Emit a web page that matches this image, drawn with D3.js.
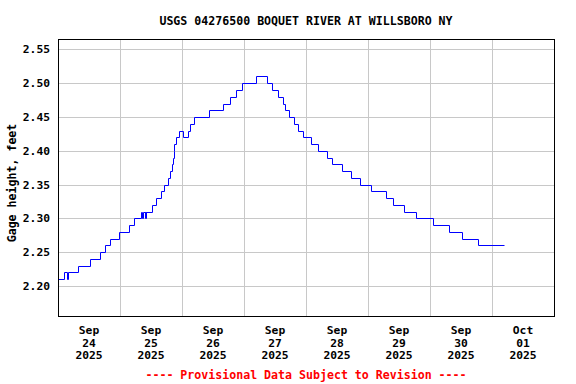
<!DOCTYPE html>
<html>
<head>
<meta charset="utf-8">
<script src="https://cdn.jsdelivr.net/npm/d3@7"></script>
<style>
  body { margin: 0; background: #fff; }
  text { font-family: "DejaVu Sans Mono", monospace; font-weight: bold; }
</style>
</head>
<body>
<div id="chart"></div>
<script>
// gage readings (time, feet), step changes
var times = [
  "2025-09-24 00:00", "2025-09-24 02:30", "2025-09-24 03:30", "2025-09-24 03:45",
  "2025-09-24 07:45", "2025-09-24 12:30", "2025-09-24 16:15", "2025-09-24 18:15",
  "2025-09-24 20:00", "2025-09-24 23:45", "2025-09-25 03:30", "2025-09-25 05:30",
  "2025-09-25 08:00", "2025-09-25 08:30", "2025-09-25 08:45", "2025-09-25 09:30",
  "2025-09-25 09:45", "2025-09-25 10:00", "2025-09-25 10:15", "2025-09-25 12:30",
  "2025-09-25 14:00", "2025-09-25 16:00", "2025-09-25 17:00", "2025-09-25 18:45",
  "2025-09-25 19:15", "2025-09-25 20:00", "2025-09-25 20:30", "2025-09-25 20:45",
  "2025-09-25 21:00", "2025-09-25 21:45", "2025-09-25 22:45", "2025-09-26 00:30",
  "2025-09-26 02:15", "2025-09-26 03:00", "2025-09-26 04:45", "2025-09-26 10:30",
  "2025-09-26 16:00", "2025-09-26 18:30", "2025-09-26 21:00", "2025-09-26 23:15",
  "2025-09-27 04:45", "2025-09-27 09:00", "2025-09-27 10:45", "2025-09-27 13:15",
  "2025-09-27 15:00", "2025-09-27 16:00", "2025-09-27 17:30", "2025-09-27 19:15",
  "2025-09-27 20:45", "2025-09-27 23:00", "2025-09-28 02:00", "2025-09-28 04:45",
  "2025-09-28 08:00", "2025-09-28 10:00", "2025-09-28 13:45", "2025-09-28 17:15",
  "2025-09-28 20:45", "2025-09-29 01:15", "2025-09-29 07:00", "2025-09-29 09:45",
  "2025-09-29 14:00", "2025-09-29 18:45", "2025-09-30 01:15", "2025-09-30 07:15",
  "2025-09-30 12:15", "2025-09-30 18:30", "2025-10-01 04:45"
];
var heights = [
  2.21, 2.22, 2.21, 2.22,
  2.23, 2.24, 2.25, 2.26,
  2.27, 2.28, 2.29, 2.30,
  2.31, 2.30, 2.31, 2.30,
  2.31, 2.30, 2.31, 2.32,
  2.33, 2.34, 2.35, 2.36,
  2.37, 2.38, 2.39, 2.40,
  2.41, 2.42, 2.43, 2.42,
  2.43, 2.44, 2.45, 2.46,
  2.47, 2.48, 2.49, 2.50,
  2.51, 2.50, 2.49, 2.48,
  2.47, 2.46, 2.45, 2.44,
  2.43, 2.42, 2.41, 2.40,
  2.39, 2.38, 2.37, 2.36,
  2.35, 2.34, 2.33, 2.32,
  2.31, 2.30, 2.29, 2.28,
  2.27, 2.26, 2.26
];
var yTicks = [2.20, 2.25, 2.30, 2.35, 2.40, 2.45, 2.50, 2.55];
var dayLabels = ["2025-09-24", "2025-09-25", "2025-09-26", "2025-09-27",
                 "2025-09-28", "2025-09-29", "2025-09-30", "2025-10-01"];
var title = "USGS 04276500 BOQUET RIVER AT WILLSBORO NY";
var note = "---- Provisional Data Subject to Revision ----";

var margin = {top: 39, right: 22, bottom: 68, left: 58},
    width = 576 - margin.left - margin.right,
    height = 384 - margin.top - margin.bottom;

var parseTime = d3.utcParse("%Y-%m-%d %H:%M");
var parseDay = d3.utcParse("%Y-%m-%d");

var data = times.map((t, i) => ({ t: parseTime(t), v: heights[i] }));

var svg = d3.select("#chart")
  .append("svg")
    .attr("width", 576)
    .attr("height", 384);

var g = svg.append("g")
    .attr("transform", "translate(" + margin.left + "," + margin.top + ")");

var x = d3.scaleUtc()
  .domain([parseDay("2025-09-24"), parseDay("2025-10-02")])
  .range([0, width]);

var y = d3.scaleLinear()
  .domain([2.1555, 2.5655])
  .range([height, 0]);

// snap to pixel centres so 1px lines stay sharp
var px = v => Math.round(v) + 0.5;

// grid
var midnights = d3.utcDay.range(parseDay("2025-09-25"), parseDay("2025-10-02"));
g.append("g")
  .selectAll("line")
  .data(midnights)
  .enter()
  .append("line")
    .attr("x1", d => px(x(d)))
    .attr("x2", d => px(x(d)))
    .attr("y1", 0)
    .attr("y2", height)
    .attr("stroke", "#c8c8c8")
    .attr("stroke-width", 1);

g.append("g")
  .selectAll("line")
  .data(yTicks)
  .enter()
  .append("line")
    .attr("x1", 0)
    .attr("x2", width)
    .attr("y1", d => px(y(d)))
    .attr("y2", d => px(y(d)))
    .attr("stroke", "#c8c8c8")
    .attr("stroke-width", 1);

// y tick labels
g.append("g")
  .selectAll("text")
  .data(yTicks)
  .enter()
  .append("text")
    .attr("x", -8)
    .attr("y", d => y(d) + 4)
    .attr("text-anchor", "end")
    .attr("font-size", "11.3px")
    .attr("fill", "#000")
    .text(d => d3.format(".2f")(d));

// x tick labels, centred on each day
var fmts = [d3.utcFormat("%b"), d3.utcFormat("%d"), d3.utcFormat("%Y")];
var lab = g.append("g")
  .selectAll("text")
  .data(dayLabels.map(parseDay))
  .enter()
  .append("text")
    .attr("text-anchor", "middle")
    .attr("font-size", "11.3px")
    .attr("fill", "#000");
fmts.forEach((f, i) => {
  lab.append("tspan")
    .attr("x", d => x(d3.utcHour.offset(d, 12)))
    .attr("y", height + 18 + i * 12.5)
    .text(d => f(d));
});

// data line
var line = d3.line()
  .x(d => px(x(d.t)))
  .y(d => px(y(d.v)))
  .curve(d3.curveStepAfter);

g.append("path")
  .datum(data)
  .attr("fill", "none")
  .attr("stroke", "#0000ff")
  .attr("stroke-width", 1)
  .attr("d", line);

// frame
g.append("rect")
  .attr("x", 0.5)
  .attr("y", 0.5)
  .attr("width", width)
  .attr("height", height)
  .attr("fill", "none")
  .attr("stroke", "#000")
  .attr("stroke-width", 1);

// titles
svg.append("text")
  .attr("x", margin.left + width / 2)
  .attr("y", 25)
  .attr("text-anchor", "middle")
  .attr("font-size", "11.6px")
  .text(title);

svg.append("text")
  .attr("transform", "translate(16," + 183 + ") rotate(-90)")
  .attr("text-anchor", "middle")
  .attr("font-size", "11.6px")
  .text("Gage height, feet");

svg.append("text")
  .attr("x", margin.left + width / 2)
  .attr("y", 379)
  .attr("text-anchor", "middle")
  .attr("font-size", "11.6px")
  .attr("fill", "#ff0000")
  .text(note);
</script>
</body>
</html>
